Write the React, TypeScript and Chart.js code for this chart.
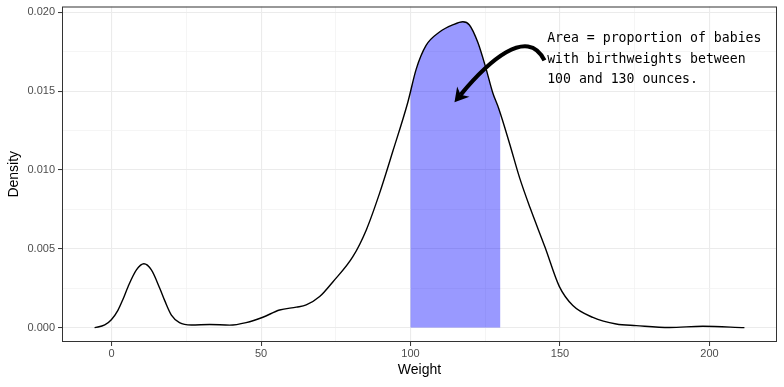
import React, { useEffect, useRef } from "react";
import { Chart, registerables } from "chart.js";

Chart.register(...registerables);

// ---- data ----
const weights = [
  -5.7, -2.3, -0.1, 2.1, 3.8, 5.5, 8.3, 10.8, 13.3, 16.1,
  17.8, 20, 22.7, 26.7, 32.8, 39.5, 45, 50.6, 56.2, 61.8,
  65.1, 69.6, 74, 80.7, 85.2, 89.6, 94.1, 99.1, 101.9,
  105.2, 109.7, 114.1, 117.5, 119.7, 122.5, 125.3, 127.5, 129.5, 133.1,
  136.5, 140, 145, 149.8, 154.3, 161, 168.8, 175.5, 186.6, 197.8,
  211.7,
];
const densities = [
  0, 0.00017, 0.0005, 0.0011, 0.0018, 0.0026, 0.00366, 0.00405, 0.00366, 0.0025,
  0.0017, 0.0008, 0.00032, 0.00017, 0.0002, 0.00016, 0.00032, 0.00066, 0.00112, 0.0013,
  0.00144, 0.00197, 0.0029, 0.0045, 0.0062, 0.0085, 0.0112, 0.0143, 0.0164,
  0.0179, 0.01875, 0.0192, 0.0194, 0.0192, 0.0181, 0.0164, 0.0149, 0.0139, 0.0117,
  0.0095, 0.0076, 0.0051, 0.0026, 0.0014, 0.00065, 0.00023, 0.00013, 0.00001, 0.00009,
  0,
];
const shadeRange = [100, 130];

const xLimits = [-16.6, 222.6];
const yLimits = [-0.00091, 0.02037];
const xMajorStep = 50;
const xMinorStep = 25;
const yMajorStep = 0.005;
const yMinorStep = 0.0025;

const xTitle = "Weight";
const yTitle = "Density";

const annotationLines = [
  "Area = proportion of babies",
  "with birthweights between",
  "100 and 130 ounces.",
];
const annotationAnchor = { x: 145.7, y: 0.01831 };
// cubic curve for the arrow: start, control 1, control 2, tip (data units)
const arrowX = [144.8, 139.1, 125.75, 114.7];
const arrowY = [0.01695, 0.01917, 0.01683, 0.0143];

const isMultiple = (v: number, step: number) =>
  Math.abs(v / step - Math.round(v / step)) < 1e-6;

const shadePlugin = {
  id: "shade",
  beforeDatasetsDraw(chart: any) {
    const meta = chart.getDatasetMeta(0);
    const line = meta.dataset;
    const pts = meta.data;
    if (!line || !pts.length) return;
    const xs = chart.scales.x;
    const ys = chart.scales.y;
    const ctx = chart.ctx;
    const a = chart.chartArea;
    const x0 = xs.getPixelForValue(shadeRange[0]);
    const x1 = xs.getPixelForValue(shadeRange[1]);
    const base = ys.getPixelForValue(0);
    ctx.save();
    ctx.beginPath();
    ctx.rect(x0, a.top, x1 - x0, base - a.top);
    ctx.clip();
    ctx.beginPath();
    line.path(ctx);
    ctx.lineTo(pts[pts.length - 1].x, base);
    ctx.lineTo(pts[0].x, base);
    ctx.closePath();
    ctx.fillStyle = "rgba(0,0,255,0.4)";
    ctx.fill();
    ctx.restore();
  },
};

const decorPlugin = {
  id: "decor",
  afterDraw(chart: any) {
    const ctx = chart.ctx;
    const a = chart.chartArea;
    const xs = chart.scales.x;
    const ys = chart.scales.y;
    // panel border
    ctx.save();
    ctx.strokeStyle = "#333333";
    ctx.lineWidth = 1;
    ctx.strokeRect(a.left + 0.5, a.top + 0.5, a.right - a.left - 1, a.bottom - a.top - 1);
    ctx.restore();

    // annotation text
    ctx.save();
    ctx.fillStyle = "#000000";
    ctx.font = '13.2px "DejaVu Sans Mono"';
    ctx.textBaseline = "middle";
    ctx.textAlign = "left";
    const tx = xs.getPixelForValue(annotationAnchor.x);
    const ty = ys.getPixelForValue(annotationAnchor.y);
    annotationLines.forEach((t, i) => ctx.fillText(t, tx, ty + i * 20.3));
    ctx.restore();

    // arrow
    const px = arrowX.map((v) => xs.getPixelForValue(v));
    const py = arrowY.map((v) => ys.getPixelForValue(v));
    const dx = px[3] - px[2];
    const dy = py[3] - py[2];
    const len = Math.hypot(dx, dy);
    const ux = dx / len;
    const uy = dy / len;
    const headLen = 16;
    const half = (30 * Math.PI) / 180;
    ctx.save();
    ctx.strokeStyle = "#000";
    ctx.lineWidth = 4.2;
    ctx.lineCap = "butt";
    ctx.beginPath();
    ctx.moveTo(px[0], py[0]);
    ctx.bezierCurveTo(
      px[1], py[1], px[2], py[2],
      px[3] - ux * headLen * 0.6, py[3] - uy * headLen * 0.6
    );
    ctx.stroke();
    const bx = -ux;
    const by = -uy;
    const rot = (ang: number) => [
      bx * Math.cos(ang) - by * Math.sin(ang),
      bx * Math.sin(ang) + by * Math.cos(ang),
    ];
    const [l1x, l1y] = rot(half);
    const [l2x, l2y] = rot(-half);
    ctx.fillStyle = "#000";
    ctx.beginPath();
    ctx.moveTo(px[3], py[3]);
    ctx.lineTo(px[3] + l1x * headLen, py[3] + l1y * headLen);
    ctx.lineTo(px[3] + bx * headLen * 0.6, py[3] + by * headLen * 0.6);
    ctx.lineTo(px[3] + l2x * headLen, py[3] + l2y * headLen);
    ctx.closePath();
    ctx.fill();
    ctx.restore();
  },
};

export default function App() {
  const ref = useRef<HTMLCanvasElement | null>(null);

  useEffect(() => {
    if (!ref.current) return;
    const points = weights.map((w, i) => ({ x: w, y: densities[i] }));
    const chart = new Chart(ref.current, {
      type: "line",
      data: {
        datasets: [
          {
            data: points,
            borderColor: "#000000",
            borderWidth: 1.4,
            pointRadius: 0,
            fill: false,
            cubicInterpolationMode: "monotone",
          },
        ],
      },
      options: {
        responsive: false,
        animation: false,
        events: [],
        layout: { padding: { top: 6.5, right: 7, left: 0, bottom: 0 } },
        plugins: {
          legend: { display: false },
          tooltip: { enabled: false },
        },
        scales: {
          x: {
            type: "linear",
            min: xLimits[0],
            max: xLimits[1],
            afterFit: (s: any) => {
              s.height = 45;
              s.paddingLeft = 0;
              s.paddingRight = 0;
            },
            border: { display: false },
            grid: {
              color: (c: any) => (isMultiple(c.tick.value, xMajorStep) ? "#ebebeb" : "#f3f3f3"),
              lineWidth: (c: any) => (isMultiple(c.tick.value, xMajorStep) ? 1.1 : 0.8),
              tickColor: (c: any) =>
                isMultiple(c.tick.value, xMajorStep) ? "#333333" : "rgba(0,0,0,0)",
              tickLength: 4,
              tickWidth: 1,
            },
            ticks: {
              stepSize: xMinorStep,
              includeBounds: false,
              autoSkip: false,
              maxRotation: 0,
              padding: 1,
              color: "#4d4d4d",
              font: { family: '"Liberation Sans", Arial, sans-serif', size: 11 },
              callback: (v: any) => (isMultiple(Number(v), xMajorStep) ? String(Math.round(Number(v))) : ""),
            },
            title: {
              display: true,
              text: xTitle,
              color: "#000000",
              font: { family: '"Liberation Sans", Arial, sans-serif', size: 14 },
              padding: { top: 0, bottom: 8 },
            },
          },
          y: {
            type: "linear",
            min: yLimits[0],
            max: yLimits[1],
            afterFit: (s: any) => {
              s.width = 62;
              s.paddingTop = 0;
              s.paddingBottom = 0;
            },
            border: { display: false },
            grid: {
              color: (c: any) => (isMultiple(c.tick.value, yMajorStep) ? "#ebebeb" : "#f3f3f3"),
              lineWidth: (c: any) => (isMultiple(c.tick.value, yMajorStep) ? 1.1 : 0.8),
              tickColor: (c: any) =>
                isMultiple(c.tick.value, yMajorStep) ? "#333333" : "rgba(0,0,0,0)",
              tickLength: 4,
              tickWidth: 1,
            },
            ticks: {
              stepSize: yMinorStep,
              includeBounds: false,
              autoSkip: false,
              padding: 3,
              color: "#4d4d4d",
              font: { family: '"Liberation Sans", Arial, sans-serif', size: 11 },
              callback: (v: any) => (isMultiple(Number(v), yMajorStep) ? Number(v).toFixed(3) : ""),
            },
            title: {
              display: true,
              text: yTitle,
              color: "#000000",
              font: { family: '"Liberation Sans", Arial, sans-serif', size: 14 },
              padding: { top: 6, bottom: 0 },
            },
          },
        },
      },
      plugins: [shadePlugin, decorPlugin],
    } as any);
    return () => chart.destroy();
  }, []);

  return (
    <div style={{ position: "absolute", left: 0, top: 0, width: 784, height: 387, background: "#fff" }}>
      <canvas ref={ref} width={784} height={387} style={{ display: "block" }} />
    </div>
  );
}
